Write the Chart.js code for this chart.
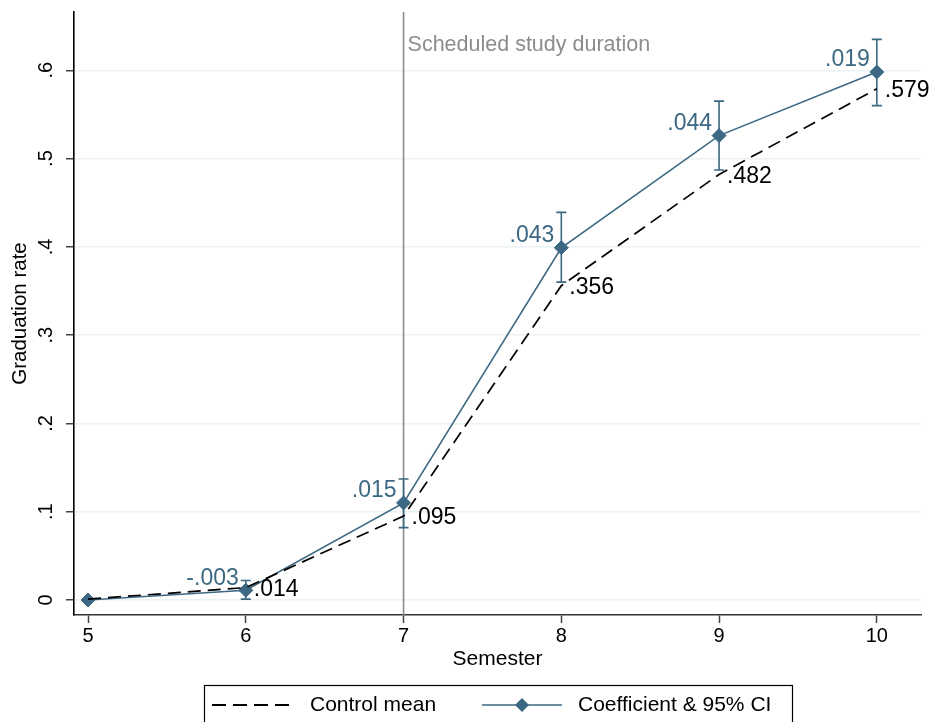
<!DOCTYPE html>
<html>
<head>
<meta charset="utf-8">
<script src="https://cdn.jsdelivr.net/npm/chart.js@4"></script>
<style>
  html, body { margin: 0; padding: 0; background: #ffffff; }
  #wrap { width: 932px; height: 722px; }
</style>
</head>
<body>
<div id="wrap"><canvas id="c" width="932" height="722"></canvas></div>
<script>
// ---- data ----
const semesters = [5, 6, 7, 8, 9, 10];
const controlMean = [0.001, 0.014, 0.095, 0.356, 0.482, 0.579];
const coefLevel = [0.000, 0.011, 0.110, 0.399, 0.526, 0.598];
const ciLow = [null, 0.001, 0.082, 0.360, 0.487, 0.560];
const ciHigh = [null, 0.022, 0.137, 0.439, 0.565, 0.635];
const coefLabels = ['', '-.003', '.015', '.043', '.044', '.019'];
const controlLabels = ['', '.014', '.095', '.356', '.482', '.579'];
const xTicks = [5, 6, 7, 8, 9, 10];
const yTicks = [0, 0.1, 0.2, 0.3, 0.4, 0.5, 0.6];
const yTickLabels = ['0', '.1', '.2', '.3', '.4', '.5', '.6'];
const scheduledSemester = 7;
const scheduledLabel = 'Scheduled study duration';
const legendLabels = ['Control mean', 'Coefficient & 95% CI'];

const BLUE = '#3d6883';
const FONT = "'Liberation Sans', Arial, sans-serif";

const refLinePlugin = {
  id: 'refLine',
  beforeDatasetsDraw(chart) {
    const {ctx, chartArea} = chart;
    const xs = chart.scales.x;
    const px = xs.getPixelForValue(scheduledSemester);
    ctx.save();
    ctx.strokeStyle = '#8c8c8c';
    ctx.lineWidth = 1.6;
    ctx.beginPath();
    ctx.moveTo(px, chartArea.top);
    ctx.lineTo(px, chartArea.bottom);
    ctx.stroke();
    ctx.fillStyle = '#8c8c8c';
    ctx.font = '21.5px ' + FONT;
    ctx.textAlign = 'left';
    ctx.textBaseline = 'middle';
    ctx.fillText(scheduledLabel, px + 4, chartArea.top + 33);
    ctx.restore();

    // error bars
    const ys = chart.scales.y;
    ctx.save();
    ctx.strokeStyle = BLUE;
    ctx.lineWidth = 1.6;
    semesters.forEach((s, i) => {
      if (ciLow[i] == null) return;
      const x = xs.getPixelForValue(s);
      const y1 = ys.getPixelForValue(ciLow[i]);
      const y2 = ys.getPixelForValue(ciHigh[i]);
      ctx.beginPath();
      ctx.moveTo(x, y1); ctx.lineTo(x, y2);
      ctx.moveTo(x - 5, y1); ctx.lineTo(x + 5, y1);
      ctx.moveTo(x - 5, y2); ctx.lineTo(x + 5, y2);
      ctx.stroke();
    });
    ctx.restore();
  }
};

const labelPlugin = {
  id: 'pointLabels',
  afterDatasetsDraw(chart) {
    const {ctx} = chart;
    const m0 = chart.getDatasetMeta(0).data;
    const m1 = chart.getDatasetMeta(1).data;
    ctx.save();
    ctx.font = '23px ' + FONT;
    ctx.textBaseline = 'middle';
    ctx.textAlign = 'right';
    ctx.fillStyle = BLUE;
    coefLabels.forEach((t, i) => {
      if (!t) return;
      const p = m1[i];
      ctx.fillText(t, p.x - 7, p.y - 12);
    });
    ctx.textAlign = 'left';
    ctx.fillStyle = '#000000';
    controlLabels.forEach((t, i) => {
      if (!t) return;
      const p = m0[i];
      ctx.fillText(t, p.x + 8, p.y + 2);
    });
    ctx.restore();
  }
};

const legendPlugin = {
  id: 'boxLegend',
  afterDraw(chart) {
    const {ctx} = chart;
    ctx.save();
    ctx.strokeStyle = '#000000';
    ctx.lineWidth = 1.2;
    ctx.strokeRect(204.5, 685.5, 588, 60);
    const ly = 705;
    ctx.lineWidth = 1.8;
    ctx.setLineDash([14, 7]);
    ctx.beginPath();
    ctx.moveTo(212, ly); ctx.lineTo(296, ly);
    ctx.stroke();
    ctx.setLineDash([]);
    ctx.strokeStyle = BLUE;
    ctx.lineWidth = 1.6;
    ctx.beginPath();
    ctx.moveTo(482, ly); ctx.lineTo(562, ly);
    ctx.stroke();
    ctx.fillStyle = BLUE;
    ctx.beginPath();
    ctx.moveTo(522, ly - 7); ctx.lineTo(529, ly); ctx.lineTo(522, ly + 7); ctx.lineTo(515, ly);
    ctx.closePath();
    ctx.fill();
    ctx.fillStyle = '#000000';
    ctx.font = '21px ' + FONT;
    ctx.textAlign = 'left';
    ctx.textBaseline = 'middle';
    ctx.fillText(legendLabels[0], 310, ly);
    ctx.fillText(legendLabels[1], 578, ly);
    ctx.restore();
  }
};

new Chart(document.getElementById('c'), {
  type: 'line',
  data: {
    datasets: [
      {
        label: legendLabels[0],
        data: semesters.map((s, i) => ({x: s, y: controlMean[i]})),
        borderColor: '#000000',
        borderWidth: 1.7,
        borderDash: [13, 7],
        pointRadius: 0,
        fill: false,
        tension: 0
      },
      {
        label: legendLabels[1],
        data: semesters.map((s, i) => ({x: s, y: coefLevel[i]})),
        borderColor: BLUE,
        borderWidth: 1.6,
        pointStyle: 'rectRot',
        pointRadius: 7,
        pointBackgroundColor: BLUE,
        pointBorderColor: BLUE,
        pointBorderWidth: 1,
        fill: false,
        tension: 0
      }
    ]
  },
  options: {
    responsive: false,
    animation: false,
    devicePixelRatio: 1,
    layout: { padding: { left: 0, right: 11, top: 12, bottom: 52 } },
    plugins: { legend: { display: false }, tooltip: { enabled: false } },
    scales: {
      x: {
        type: 'linear',
        min: 4.911,
        max: 10.28,
        afterBuildTicks: (s) => { s.ticks = xTicks.map(v => ({value: v})); },
        afterFit: (s) => { s.height = 55; s.paddingLeft = 0; s.paddingRight = 0; },
        grid: { display: true, drawOnChartArea: false, tickLength: 8, tickColor: '#444444', tickWidth: 1.5 },
        border: { display: true, color: '#333333', width: 1.6 },
        ticks: { color: '#000000', font: { family: FONT, size: 20 }, padding: 1, maxRotation: 0,
                 callback: (v) => String(v) },
        title: { display: true, text: 'Semester', color: '#000000', font: { family: FONT, size: 21, lineHeight: 1.0 },
                 padding: { top: 0, bottom: 0 } }
      },
      y: {
        type: 'linear',
        min: -0.017,
        max: 0.666,
        afterBuildTicks: (s) => { s.ticks = yTicks.map(v => ({value: v})); },
        afterFit: (s) => { s.width = 74; s.paddingTop = 0; s.paddingBottom = 0; },
        grid: { display: true, drawOnChartArea: true, color: '#eaf2f3', lineWidth: 1.5, tickLength: 8,
                tickColor: '#444444', tickWidth: 1.5 },
        border: { display: true, color: '#000000', width: 1.6 },
        ticks: { color: '#000000', font: { family: FONT, size: 20 }, padding: 11,
                 minRotation: 90, maxRotation: 90, crossAlign: 'center',
                 callback: (v, idx) => yTickLabels[idx] },
        title: { display: true, text: 'Graduation rate', color: '#000000', font: { family: FONT, size: 20.5, lineHeight: 1.2 },
                 padding: { top: 8, bottom: 0 } }
      }
    }
  },
  plugins: [refLinePlugin, labelPlugin, legendPlugin]
});
</script>
</body>
</html>
